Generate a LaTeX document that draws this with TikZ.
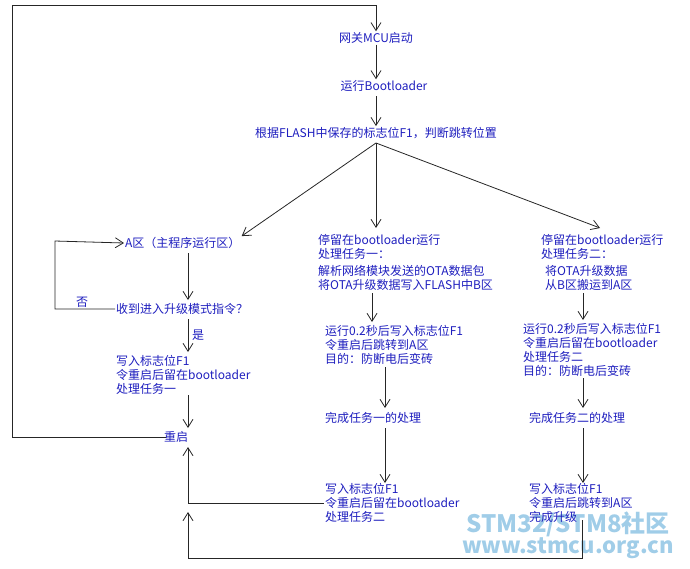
\documentclass[tikz,border=0pt]{standalone}
\usepackage{fontspec}
\setmainfont{Noto Sans CJK SC}
\usetikzlibrary{arrows.meta}
\definecolor{txt}{RGB}{30,30,190}
\definecolor{wm}{RGB}{160,205,232}
\tikzset{
 t/.style={text=txt,inner sep=1pt,align=left,font=\fontsize{12}{14}\selectfont},
 tw/.style={t,anchor=west},
 ln/.style={draw=black!85,line width=0.8pt},
 ar/.style={ln,-{Straight Barb[length=8pt,width=10pt]}}
}
\begin{document}
\begin{tikzpicture}[x=1pt,y=-1pt]
\useasboundingbox (0,0) rectangle (690,568);
\node[text=wm,font=\bfseries\fontsize{24}{24}\selectfont,inner sep=0] (wm1) at (568,524) {STM32/STM8社区};
\node[text=wm,font=\bfseries\fontsize{22}{22}\selectfont,inner sep=0] (wm2) at (568,548) {www.stmcu.org.cn};
\node[t] (s) at (376,38) {网关MCU启动};
\node[t] (b) at (384,86) {运行Bootloader};
\node[t] (f) at (376,133) {根据FLASH中保存的标志位F1，判断跳转位置};
\node[tw] (a) at (124,243) {A区（主程序运行区）};
\node[tw] (q) at (115,309) {收到进入升级模式指令？};
\node[t] (no) at (82,302) {否};
\node[t] (yes) at (198,335) {是};
\node[tw] (w1) at (115,375) {写入标志位F1\\令重启后留在bootloader\\处理任务一};
\node[t] (r) at (176,437) {重启};
\node[tw] (m1) at (317,247) {停留在bootloader运行\\处理任务一：};
\node[tw] (m2) at (317,278) {解析网络模块发送的OTA数据包\\将OTA升级数据写入FLASH中B区};
\node[tw] (m3) at (324,345) {运行0.2秒后写入标志位F1\\令重启后跳转到A区\\目的：防断电后变砖};
\node[tw] (m4) at (324,418) {完成任务一的处理};
\node[tw] (m5) at (324,503) {写入标志位F1\\令重启后留在bootloader\\处理任务二};
\node[tw] (n1) at (540,247) {停留在bootloader运行\\处理任务二：};
\node[tw] (n2) at (544,278) {将OTA升级数据\\从B区搬运到A区};
\node[tw] (n3) at (522,350) {运行0.2秒后写入标志位F1\\令重启后留在bootloader\\处理任务二\\目的：防断电后变砖};
\node[tw] (n4) at (528,418) {完成任务二的处理};
\node[tw] (n5) at (528,503) {写入标志位F1\\令重启后跳转到A区\\完成升级};
\coordinate (r0) at (166,437);
\draw[ar] (r0) -- (12,437) -- (12,5) -- (376,5) -- (s.north);
\draw[ar] (s.south) -- (b.north -| s);
\draw[ar] (376,96) -- (f.north);
\draw[ar] (376,143) -- (a.north east);
\draw[ar] (376,143) -- (376,228);
\draw[ar] (376,143) -- (600,228);
\draw[ar] (q.west) -- (55,309) -- (55,241) -- (a.west);
\draw[ar] (188,253) -- (188,300);
\draw[ar] (188,319) -- (188,352);
\draw[ar] (188,395) -- (188,428);
\draw[ar] (m5.west) -- (188,503) -- (188,447);
\draw[ar] (582,520) -- (582,558) -- (188,558) -- (188,512);
\draw[ar] (372,293) -- (372,322);
\draw[ar] (385,367) -- (385,408);
\draw[ar] (385,428) -- (385,483);
\draw[ar] (583,293) -- (583,320);
\draw[ar] (583,378) -- (583,408);
\draw[ar] (583,428) -- (583,483);
\end{tikzpicture}
\end{document}
